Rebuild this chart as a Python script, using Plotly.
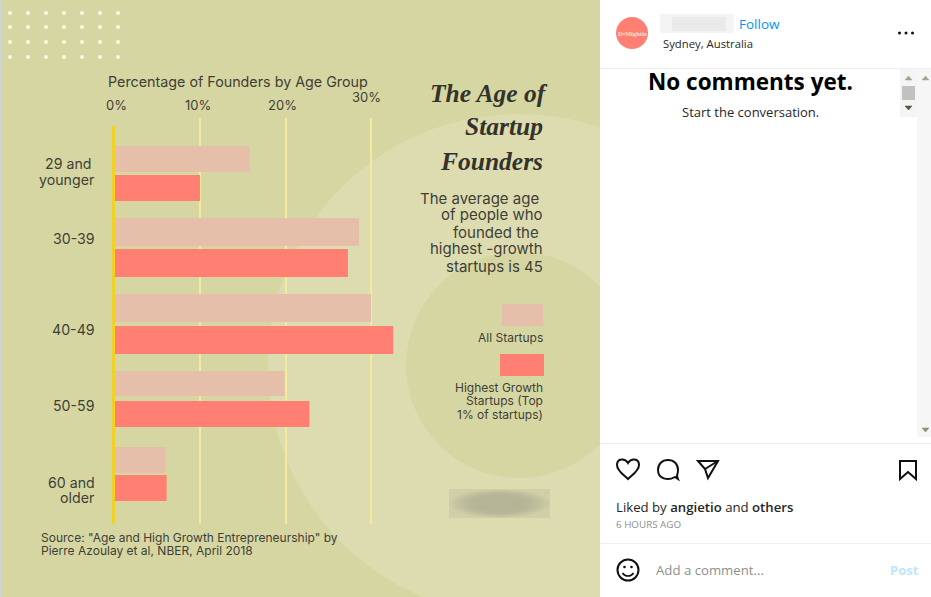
import plotly.graph_objects as go

W, H = 931, 597

# ---- data ----
age_groups = ["29 and<br>younger", "30-39", "40-49", "50-59", "60 and<br>older"]
all_startups = [15.8, 28.6, 30.0, 19.9, 6.0]
highest_growth = [10.0, 27.3, 32.6, 22.8, 6.1]
axis_ticks = [0, 10, 20, 30]
axis_tick_labels = ["0%", "10%", "20%", "30%"]
series_names = ["All Startups", "Highest Growth Startups (Top 1% of startups)"]

# ---- layout of the bars in page pixels (top, bottom), per age group ----
all_bar_px = [(146, 172), (218, 246), (294, 322), (371, 396), (447, 473)]
high_bar_px = [(175, 201), (249, 277), (326, 354), (401, 427), (475, 501)]
CAT0_PX, CAT_STEP_PX = 173.5, 75

# ---- style ----
BG = "#D6D6A3"
BG_LIGHT = "#DCDCB0"
PINK = "#E5BFAA"
CORAL = "#FF7F72"
GRID = "#F4EA9E"
ZERO = "#F0D126"
INK = "#3F3F36"
SANS = "Inter, 'DejaVu Sans', sans-serif"
SERIF = "'Liberation Serif', serif"
UI = "'Open Sans', 'Noto Sans', sans-serif"

def fx(x): return x / W
def fy(y): return 1 - y / H

shapes = []
annos = []

def rect(x0, y0, x1, y1, fill, layer="below", opacity=1):
    shapes.append(dict(type="rect", xref="paper", yref="paper", x0=fx(x0), x1=fx(x1),
                       y0=fy(y0), y1=fy(y1), fillcolor=fill, line_width=0, layer=layer, opacity=opacity))

def circle(cx, cy, r, fill, layer="below", line=None, lw=0, rx=None, opacity=1):
    rx = rx if rx is not None else r
    shapes.append(dict(type="circle", xref="paper", yref="paper", x0=fx(cx - rx), x1=fx(cx + rx),
                       y0=fy(cy - r), y1=fy(cy + r), fillcolor=fill, layer=layer, opacity=opacity,
                       line=dict(color=line or fill, width=lw)))

def icon(d, lw=2.0, fill="rgba(0,0,0,0)", color="#111111"):
    # path given in page pixels, converted to paper fractions
    out, toks = [], d.split()
    i = 0
    while i < len(toks):
        t = toks[i]
        if t in "MLCQZ":
            out.append(t); i += 1
        else:
            out.append(f"{fx(float(t)):.5f},{fy(float(toks[i+1])):.5f}"); i += 2
    shapes.append(dict(type="path", xref="paper", yref="paper", path=" ".join(out),
                       fillcolor=fill, line=dict(color=color, width=lw), layer="above"))

def text(x, y, s, size, color=INK, anchor="right", font=SANS, valign="middle"):
    shift = {"right": 2, "left": -2, "center": 0}[anchor]
    annos.append(dict(x=fx(x), y=fy(y), xref="paper", yref="paper", text=s, showarrow=False,
                      xanchor=anchor, yanchor=valign, align=anchor, xshift=shift,
                      font=dict(size=size, color=color, family=font)))

# left panel
rect(0, 0, 600, H, BG)
rect(0, 0, 1, H, "#CFD8DC")
circle(519, 365, 251, BG_LIGHT)
circle(519, 365, 113, BG)
# clip the circles at the panel edge
rect(600, 0, W, H, "#FFFFFF")

# blurred logo
rect(449, 489, 550, 518, "#D0D0A8")
for ry, rxx in ((14, 50), (13, 45), (12, 40), (11, 35), (10, 30), (8, 24)):
    circle(499.5, 503.5, ry, "#A9AA8E", rx=rxx, opacity=0.16)

# zero line beside the bars
rect(112, 126, 115, 524, ZERO, layer="above")

# legend swatches
rect(502, 304, 543, 326, PINK)
rect(500, 354, 544, 376, CORAL)

# right panel chrome
for yy in (68, 443, 543):
    rect(600, yy, W, yy + 1, "#EFEFEF")
rect(900, 69, 917, 117, "#F4F4F4")
rect(917, 69, 931, 437, "#F6F6F6")
rect(902, 86, 915, 100, "#C1C1C1")
icon("M 905 80 L 912 80 L 908.5 76 Z", lw=0.5, fill="#A3A38E", color="#A3A38E")
icon("M 922 80 L 929 80 L 925.5 76 Z", lw=0.5, fill="#A3A38E", color="#A3A38E")
icon("M 905 106 L 912 106 L 908.5 110 Z", lw=0.5, fill="#55553F", color="#55553F")
icon("M 922 428 L 929 428 L 925.5 432 Z", lw=0.5, fill="#8F8F77", color="#8F8F77")

# header
circle(632, 33, 16, CORAL)
text(632, 33, "<b>D•Mightie</b>", 6.5, "#F6E3D0", "center", SERIF)
rect(660, 14, 734, 33, "#F4F4F4")
rect(672, 17, 726, 31, "#EAEAEA")
for cx in (899.5, 906, 912.5):
    circle(cx, 33, 1.5, "#111111", layer="above")

# action icons
icon("M 628 479 C 624 475 617 471 617 465 C 617 458 625 458 628 463 C 631 458 639 458 639 465 C 639 471 632 475 628 479 Z")
icon("M 675 477 C 668 481 658 479 658 470 C 658 464 662 460 668 460 C 674 460 678 464 678 470 C 678 473 677 475 677 476 L 678 479 Z")
icon("M 698 461 L 718 461 L 708 478 L 705 469 Z")
icon("M 705 469 L 718 461")
icon("M 900 461 L 916 461 L 916 479 L 908 472 L 900 479 Z")
circle(628, 570, 10.5, "rgba(0,0,0,0)", layer="above", line="#111111", lw=2)
circle(624.5, 567, 1.3, "#111111", layer="above")
circle(631.5, 567, 1.3, "#111111", layer="above")
icon("M 622.5 573 C 625 577 631 577 633.5 573", lw=1.6)

# texts: left panel
text(108, 82, "Percentage of Founders by Age Group", 14.3, anchor="left")
tick_label_px = [(117, 105), (198, 105), (282, 105), (366, 97)]
for (px, py), lab in zip(tick_label_px, axis_tick_labels):
    text(px, py, lab, 13, anchor="center")

# age-group labels sit a little off their bar groups in the reference
cat_label_px = [[(91, 164), (95, 180)], [(95, 239)], [(95, 329)], [(95, 405)], [(95, 483), (95, 498)]]
for lab, spots in zip(age_groups, cat_label_px):
    for part, (px, py) in zip(lab.split("<br>"), spots):
        text(px, py, part, 14.2)

for yy, ln, xx in zip((93, 127, 161), ("The Age of", "Startup", "Founders"), (548, 543, 543)):
    text(xx, yy, f"<b><i>{ln}</i></b>", 25.5, "#33332C", "right", SERIF)
for yy, ln, xx in zip((198, 215, 232, 249, 266),
                      ("The average age", "of people who", "founded the", "highest -growth", "startups is 45"),
                      (539, 543, 539, 543, 543)):
    text(xx, yy, ln, 15, anchor="right")
text(543, 337, series_names[0], 12)
for yy, ln in zip((387, 400, 414), ("Highest Growth", "Startups (Top", "1% of startups)")):
    text(543, yy, ln, 12)
text(41, 537, 'Source: "Age and High Growth Entrepreneurship" by', 12, anchor="left")
text(41, 550, "Pierre Azoulay et al, NBER, April 2018", 12, anchor="left")

# texts: right panel
text(739, 24, "Follow", 13.5, "#0095F6", "left", UI)
text(663, 44, "Sydney, Australia", 11.3, "#262626", "left", UI)
text(750, 82, "<b>No comments yet.</b>", 22.5, "#000000", "center", UI)
text(750, 112, "Start the conversation.", 13, "#262626", "center", UI)
text(616, 507, "Liked by <span style='font-weight:600'>angietio</span> and <span style='font-weight:600'>others</span>", 13.2, "#262626", "left", UI)
text(616, 524, "6 HOURS AGO", 9.8, "#8E8E8E", "left", UI)
text(656, 570, "Add a comment...", 13.2, "#8E8E8E", "left", UI)
text(919, 570, "<b>Post</b>", 13, "#C0E4FC", "right", UI)

def offsets(px):
    return [(t - (CAT0_PX + CAT_STEP_PX * i)) / CAT_STEP_PX for i, (t, b) in enumerate(px)]

def widths(px):
    return [(b - t) / CAT_STEP_PX for t, b in px]

fig = go.Figure()
fig.add_trace(go.Bar(name=series_names[0], y=age_groups, x=all_startups, orientation="h",
                     offset=offsets(all_bar_px), width=widths(all_bar_px),
                     marker=dict(color=PINK, line_width=0)))
fig.add_trace(go.Bar(name=series_names[1], y=age_groups, x=highest_growth, orientation="h",
                     offset=offsets(high_bar_px), width=widths(high_bar_px),
                     marker=dict(color=CORAL, line_width=0)))

# pixel columns and rows of the decorative dot grid, on a full-page axis in page pixels
dot_x = [10, 28, 46, 64, 82, 100, 118]
dot_y = [13, 27, 42, 57]
fig.add_trace(go.Scatter(x=[x for _ in dot_y for x in dot_x], y=[y for y in dot_y for _ in dot_x],
                         xaxis="x2", yaxis="y2", mode="markers", hoverinfo="skip",
                         marker=dict(size=4, color="#FBFAE6", line_width=0)))

x_left, x_30 = 114.5, 371
per_pct = (x_30 - x_left) / 30
fig.update_layout(
    width=W, height=H, autosize=False, showlegend=False,
    margin=dict(l=0, r=0, t=0, b=0),
    paper_bgcolor="#FFFFFF", plot_bgcolor="rgba(0,0,0,0)",
    barmode="group",
    shapes=shapes, annotations=annos,
    xaxis=dict(domain=[fx(x_left), fx(600)], range=[0, (600 - x_left) / per_pct],
               tickvals=axis_ticks, showticklabels=False, ticks="",
               showgrid=True, gridcolor=GRID, gridwidth=2, zeroline=False, fixedrange=True),
    yaxis=dict(domain=[fy(524), fy(118)], type="category", categoryorder="array",
               categoryarray=age_groups, range=[(524 - CAT0_PX) / CAT_STEP_PX, (118 - CAT0_PX) / CAT_STEP_PX],
               showgrid=False, ticks="", showticklabels=False,
               zeroline=False, showline=False, fixedrange=True),
    xaxis2=dict(domain=[0, 1], range=[0, W], anchor="y2", visible=False, fixedrange=True),
    yaxis2=dict(domain=[0, 1], range=[H, 0], anchor="x2", visible=False, fixedrange=True),
)
fig.write_html("out.html", config={"displayModeBar": False},
               post_script="document.body.style.margin='0';document.documentElement.style.overflow='hidden';")
